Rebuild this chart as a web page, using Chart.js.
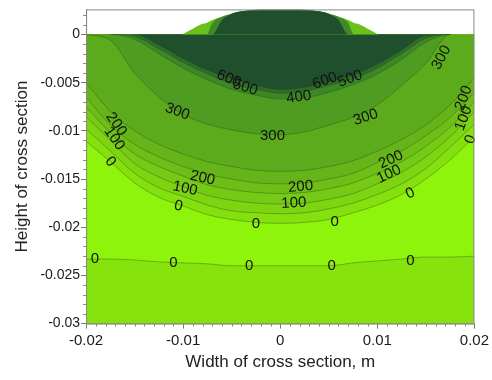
<!DOCTYPE html>
<html>
<head>
<meta charset="utf-8">
<script src="https://cdn.jsdelivr.net/npm/chart.js@4.4.1/dist/chart.umd.min.js"></script>
<style>
  html, body { margin: 0; padding: 0; background: #fff; }
  #wrap { width: 492px; height: 380px; }
</style>
</head>
<body>
<div id="wrap"><canvas id="myChart"></canvas></div>
<script>
// width positions across the section (m)
const xs = [-0.02, -0.0175, -0.015, -0.0125, -0.01, -0.0075, -0.005, -0.0025, 0,
            0.0025, 0.005, 0.0075, 0.01, 0.0125, 0.015, 0.0175, 0.02];

// contour heights (m), one per level
const lowerZero = [-0.0233, -0.0233, -0.0234, -0.0236, -0.0237, -0.0238, -0.0240, -0.0240, -0.0240,
                   -0.0240, -0.0240, -0.0237, -0.0235, -0.0233, -0.0231, -0.0231, -0.0230];
const c0   = [-0.0111, -0.0132, -0.0154, -0.0169, -0.0178, -0.0187, -0.0192, -0.0195, -0.0196,
              -0.0195, -0.0192, -0.0185, -0.0177, -0.0166, -0.0150, -0.0130, -0.0106];
const c50  = [-0.0098, -0.0121, -0.0144, -0.0159, -0.0168, -0.0177, -0.0183, -0.0185, -0.0186,
              -0.0185, -0.0181, -0.0175, -0.0166, -0.0155, -0.0139, -0.0117, -0.0093];
const c100 = [-0.0085, -0.0110, -0.0134, -0.0148, -0.0158, -0.0167, -0.0172, -0.0175, -0.0176,
              -0.0175, -0.0171, -0.0165, -0.0155, -0.0143, -0.0127, -0.0106, -0.0080];
const c150 = [-0.0075, -0.0102, -0.0124, -0.0137, -0.0147, -0.0156, -0.0161, -0.0164, -0.0165,
              -0.0164, -0.0160, -0.0154, -0.0144, -0.0132, -0.0116, -0.0096, -0.0070];
const c200 = [-0.0065, -0.0094, -0.0114, -0.0127, -0.0137, -0.0145, -0.0150, -0.0154, -0.0155,
              -0.0154, -0.0150, -0.0144, -0.0133, -0.0121, -0.0105, -0.0086, -0.0060];
const c250 = [-0.0050, -0.0080, -0.0100, -0.0114, -0.0124, -0.0132, -0.0137, -0.0141, -0.0142,
              -0.0141, -0.0137, -0.0131, -0.0121, -0.0109, -0.0094, -0.0073, -0.0045];
const c300 = [0, -0.0006, -0.0040, -0.0065, -0.0083, -0.0093, -0.0099, -0.0103, -0.0104,
              -0.0101, -0.0094, -0.0086, -0.0073, -0.0053, -0.0030, 0, 0];
const c400 = [0, 0, -0.0005, -0.0020, -0.0035, -0.0047, -0.0057, -0.0063, -0.0067,
              -0.0066, -0.0060, -0.0052, -0.0041, -0.0026, -0.0008, 0, 0];
const c500 = [0, 0, -0.0002, -0.0015, -0.0029, -0.0041, -0.0051, -0.0057, -0.0061,
              -0.0059, -0.0053, -0.0046, -0.0035, -0.0020, -0.0004, 0, 0];
const c600 = [0, 0, 0, -0.0011, -0.0025, -0.0037, -0.0046, -0.0053, -0.0057,
              -0.0055, -0.0049, -0.0042, -0.0031, -0.0016, -0.0001, 0, 0];

// weld bead above the surface
const domeX = [-0.0101, -0.009, -0.008, -0.0076, -0.007, -0.006, -0.005, -0.0045, -0.004, -0.003, -0.002, -0.001, 0,
               0.001, 0.002, 0.003, 0.004, 0.0045, 0.005, 0.006, 0.007, 0.0076, 0.008, 0.009, 0.0101];
const domeOuter = [0, 0.0006, 0.0011, 0.0012, 0.0015, 0.00185, 0.00215, 0.0023, 0.0024, 0.0025, 0.00265, 0.0028, 0.0028,
                   0.0028, 0.00265, 0.0025, 0.0024, 0.0023, 0.00215, 0.00185, 0.0015, 0.0012, 0.0011, 0.0006, 0];
const domeMid   = [0, 0, 0, 0, 0.0012, 0.00185, 0.00215, 0.0023, 0.0024, 0.0025, 0.00265, 0.0028, 0.0028,
                   0.0028, 0.00265, 0.0025, 0.0024, 0.0023, 0.00215, 0.00185, 0.0012, 0, 0, 0, 0];
const domeCore  = [0, 0, 0, 0, 0, 0.0015, 0.00215, 0.0023, 0.0024, 0.0025, 0.00265, 0.0028, 0.0028,
                   0.0028, 0.00265, 0.0025, 0.0024, 0.0023, 0.00215, 0.0015, 0, 0, 0, 0, 0];

// contour labels
const labelText = ['600', '500', '400', '600', '500', '300', '300', '300', '300',
                   '200', '100', '0', '200', '100', '0', '200', '100', '0', '0',
                   '200', '100', '0', '200', '100', '0', '0', '0', '0', '0', '0'];
const labelX = [-0.0053, -0.0036, 0.0019, 0.0046, 0.0072, 0.0166, -0.0106, -0.0008, 0.0088,
                -0.0169, -0.0171, -0.0175, -0.0080, -0.0098, -0.0105, 0.0021, 0.0014, -0.0025, 0.0056,
                0.0114, 0.0112, 0.0134, 0.0189, 0.0189, 0.0196, -0.0191, -0.0110, -0.0032, 0.0053, 0.0134];
const labelY = [-0.0046, -0.0055, -0.0065, -0.0048, -0.0046, -0.0024, -0.0080, -0.0105, -0.0086,
                -0.0093, -0.0108, -0.0132, -0.0149, -0.0160, -0.0178, -0.0158, -0.0175, -0.0197, -0.0194,
                -0.0130, -0.0145, -0.0165, -0.0066, -0.0087, -0.0109, -0.0233, -0.0237, -0.0240, -0.0240, -0.0235];
const labelAngle = [22, 18, -8, -20, -20, -62, 20, 0, -18,
                    55, 55, 50, 12, 12, 12, -5, -3, 0, 0,
                    -25, -25, -25, -70, -70, -70, 0, 0, 0, 0, 0];

const yMajor = [-0.03, -0.025, -0.02, -0.015, -0.01, -0.005, 0];
const yLabels = ['-0.03', '-0.025', '-0.02', '-0.015', '-0.01', '-0.005', '0'];
const xMajor = [-0.02, -0.01, 0, 0.01, 0.02];
const xLabels = ['-0.02', '-0.01', '0', '0.01', '0.02'];

const pts = (xv, yv) => xv.map((x, i) => ({ x: x, y: yv[i] }));
const lineCol = 'rgba(40,70,20,0.45)';
const hideFlat = {
    borderColor: c => (c.p0.parsed.y === 0 && c.p1.parsed.y === 0) ? 'rgba(0,0,0,0)' : undefined
};

function band(data, fill, color, line) {
    return {
        data: data,
        fill: fill,
        backgroundColor: color,
        borderColor: line ? lineCol : 'rgba(0,0,0,0)',
        borderWidth: line ? 0.8 : 0,
        pointRadius: 0,
        cubicInterpolationMode: 'monotone',
        segment: hideFlat
    };
}

// bottom first, top last
const layers = [
    band(pts(xs, xs.map(() => 0)), 'start', '#8ef40b', false),
    band(pts(xs, lowerZero), 'start', '#86e30e', true),
    band(pts(xs, c0), 'origin', '#85e00f', true),
    band(pts(xs, c50), 'origin', '#7dd512', true),
    band(pts(xs, c100), 'origin', '#75ca15', true),
    band(pts(xs, c150), 'origin', '#6dbf18', true),
    band(pts(xs, c200), 'origin', '#65b51a', true),
    band(pts(xs, c250), 'origin', '#5cab1d', true),
    band(pts(xs, c300), 'origin', '#4e9c22', true),
    band(pts(xs, c400), 'origin', '#3e8727', true),
    band(pts(xs, c500), 'origin', '#2f6c2a', true),
    band(pts(xs, c600), 'origin', '#1f4f2c', true),
    band(pts(domeX, domeOuter), 'origin', '#6cc01b', false),
    band(pts(domeX, domeMid), 'origin', '#3f8a26', false),
    band(pts(domeX, domeCore), 'origin', '#1f4f2c', false)
];
layers.forEach((d, i) => { d.order = layers.length - i; });

const frameAndLabels = {
    id: 'frameAndLabels',
    afterDatasetsDraw(chart) {
        const ctx = chart.ctx;
        const xa = chart.scales.x, ya = chart.scales.y;
        ctx.save();
        ctx.fillStyle = '#111';
        ctx.font = '15px "Liberation Sans", Arial, sans-serif';
        ctx.textAlign = 'center';
        ctx.textBaseline = 'middle';
        labelText.forEach((t, i) => {
            ctx.save();
            ctx.translate(xa.getPixelForValue(labelX[i]), ya.getPixelForValue(labelY[i]));
            ctx.rotate(labelAngle[i] * Math.PI / 180);
            ctx.fillText(t, 0, 0);
            ctx.restore();
        });
        ctx.restore();
    },
    afterDraw(chart) {
        const ctx = chart.ctx, a = chart.chartArea;
        const xa = chart.scales.x, ya = chart.scales.y;
        ctx.save();
        ctx.strokeStyle = '#888';
        ctx.lineWidth = 1;
        ctx.strokeRect(a.left + 0.5, a.top + 0.5, a.right - a.left - 1, a.bottom - a.top);
        // minor ticks
        ctx.beginPath();
        for (let k = -30; k <= 2; k++) {
            if (k % 5 === 0) continue;
            const py = Math.round(ya.getPixelForValue(k / 1000)) + 0.5;
            ctx.moveTo(a.left - 3, py);
            ctx.lineTo(a.left, py);
        }
        for (let k = -20; k <= 20; k++) {
            if (k % 10 === 0) continue;
            const px = Math.round(xa.getPixelForValue(k / 1000)) + 0.5;
            ctx.moveTo(px, a.bottom);
            ctx.lineTo(px, a.bottom + 3);
        }
        ctx.stroke();
        ctx.restore();
    }
};

const fam = '"Liberation Sans", Arial, sans-serif';

new Chart(document.getElementById('myChart'), {
    type: 'line',
    data: { datasets: layers },
    options: {
        responsive: true,
        maintainAspectRatio: false,
        animation: false,
        layout: { padding: { left: 12, right: 2, top: 5, bottom: 7 } },
        plugins: { legend: { display: false }, tooltip: { enabled: false } },
        scales: {
            x: {
                type: 'linear',
                min: -0.02,
                max: 0.02,
                afterBuildTicks: s => { s.ticks = xMajor.map(v => ({ value: v })); },
                ticks: { font: { family: fam, size: 15 }, color: '#1a1a1a', padding: 3, maxRotation: 0,
                         callback: (v, i) => xLabels[i] },
                grid: { drawOnChartArea: false, tickLength: 5, tickColor: '#777' },
                border: { color: '#888' },
                title: { display: true, text: 'Width of cross section, m',
                         font: { family: fam, size: 17 }, color: '#222', padding: { top: 0, bottom: 0 } }
            },
            y: {
                type: 'linear',
                min: -0.03,
                max: 0.0026,
                afterBuildTicks: s => { s.ticks = yMajor.map(v => ({ value: v })); },
                ticks: { font: { family: fam, size: 14 }, color: '#1a1a1a', padding: 1,
                         callback: (v, i) => yLabels[i] },
                grid: { drawOnChartArea: false, tickLength: 5, tickColor: '#777' },
                border: { color: '#888' },
                title: { display: true, text: 'Height of cross section',
                         font: { family: fam, size: 17 }, color: '#222', padding: { top: 0, bottom: 7 } }
            }
        }
    },
    plugins: [frameAndLabels]
});
</script>
</body>
</html>
